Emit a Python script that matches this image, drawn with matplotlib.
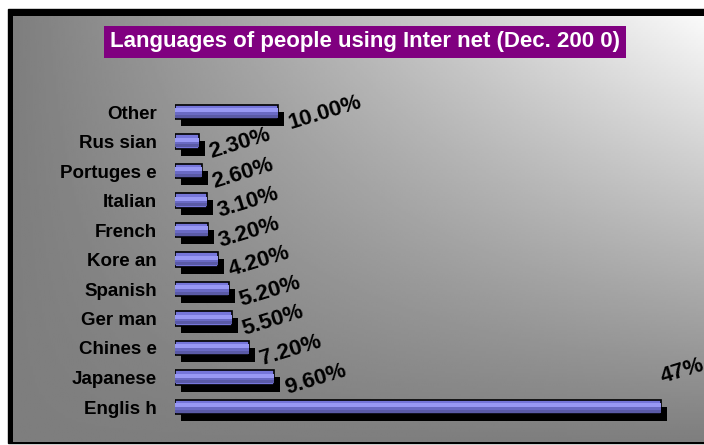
import matplotlib.pyplot as plt
import matplotlib.transforms as mtransforms
from matplotlib.patches import Rectangle
import numpy as np

plt.rcParams['font.family'] = ['Liberation Sans', 'DejaVu Sans']

# data (bottom to top)
languages = ['Englis h', 'Japanese', 'Chines e', 'Ger man', 'Spanish',
             'Kore an', 'French', 'Italian', 'Portuges e', 'Rus sian', 'Other']
shares = [47, 9.6, 7.2, 5.5, 5.2, 4.2, 3.2, 3.1, 2.6, 2.3, 10.0]
share_labels = ['47%', '9.60%', '7.20%', '5.50%', '5.20%', '4.20%',
                '3.20%', '3.10%', '2.60%', '2.30%', '10.00%']
title = 'Languages of people using Inter net (Dec. 200 0)'

W, H = 704, 445
fig = plt.figure(figsize=(W / 100, H / 100), dpi=100)
fig.patch.set_facecolor('white')

def px(x0, y0, x1, y1):
    # pixel box (from top-left) -> figure fraction rect
    return [x0 / W, 1 - y1 / H, (x1 - x0) / W, (y1 - y0) / H]

# frame
fig.add_artist(Rectangle((8 / W, 1 - 443 / H), 1, 434 / H,
                         transform=fig.transFigure, color='black', zorder=0))

# gradient background
ax_bg = fig.add_axes(px(13, 16, 704, 442))
ax_bg.set_axis_off()
gx = np.linspace(0, 1, 300)
gy = np.linspace(1, 0, 200)
fx, fy = np.meshgrid(gx, gy)
shade = (126 + 124 * fx * fy) / 255.0
ax_bg.imshow(shade, cmap='gray', vmin=0, vmax=1, aspect='auto',
             extent=[0, 1, 0, 1], interpolation='bilinear')

# bar axes: x=0 at px 175, 1% = 10.34 px ; row step 29.5 px, English row at px 407
ax = fig.add_axes(px(175, 60, 704, 440))
ax.set_facecolor('none')
ax.set_xlim(0, 529 / 10.34)
ax.set_ylim((407 - 440) / 29.5, (407 - 60) / 29.5)
for s in ax.spines.values():
    s.set_visible(False)
ax.set_xticks([])

pos = np.arange(len(languages))
h = 0.5

shadow = mtransforms.offset_copy(ax.transData, fig=fig, x=6, y=-7, units='dots')
ax.barh(pos, shares, height=h, color='black', transform=shadow, zorder=1)
ax.barh(pos, shares, height=h, color='#7676da', edgecolor='black',
        linewidth=1.2, zorder=2)
ax.barh(pos + 0.06, shares, height=0.14, color='#9898f4', zorder=3)
ax.barh(pos - 0.15, shares, height=0.1, color='#5a5aa6', zorder=3)
ax.barh(pos - 0.05, shares, height=0.1, color='#6a6ac4', zorder=3)

ax.set_yticks(pos)
ax.set_yticklabels(languages, fontsize=13.5, fontweight='bold')
ax.tick_params(axis='y', length=0, pad=13)

for i, (v, lab) in enumerate(zip(shares, share_labels)):
    if v == max(shares):
        off = (1, 17)
    else:
        off = (9, -12)
    ax.annotate(lab, xy=(v, i), xytext=off, textcoords='offset points',
                ha='left', va='baseline', rotation=17, rotation_mode='anchor',
                fontsize=16, fontweight='bold', color='black',
                annotation_clip=False, zorder=4)

fig.text(365 / W, 1 - 42 / H, title, ha='center', va='center',
         fontsize=16, fontweight='bold', color='white',
         bbox=dict(boxstyle='square,pad=0.25', facecolor='#800080',
                   edgecolor='none'))

fig.savefig('out.png', dpi=100)
